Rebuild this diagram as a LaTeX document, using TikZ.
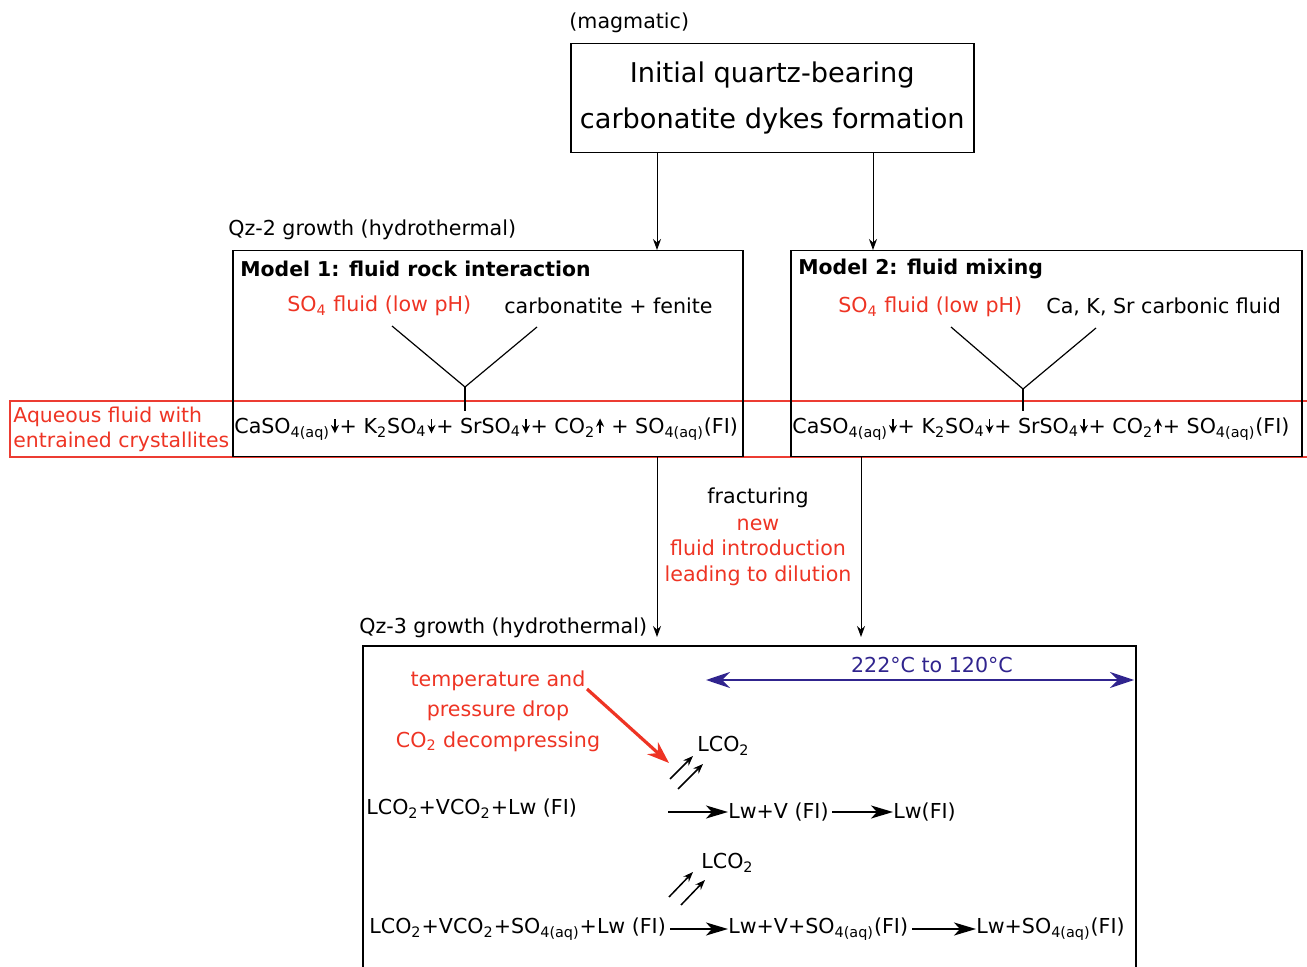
\documentclass[tikz,border=0pt]{standalone}
\usepackage{fontspec}
\setmainfont{DejaVu Sans}
\usepackage{xcolor}
\usetikzlibrary{arrows.meta,positioning}
\definecolor{RedText}{RGB}{238,52,36}
\definecolor{BandRed}{RGB}{236,60,50}
\definecolor{RangeBlue}{RGB}{48,36,142}
\newcommand{\dnar}{\hspace{0.4pt}\tikz[baseline=0pt]\draw[line width=0.8pt,-{Stealth[length=4.2pt,width=4pt]}] (0pt,7pt) -- (0pt,0pt);\hspace{0.4pt}}
\newcommand{\upar}{\hspace{0.4pt}\tikz[baseline=0pt]\draw[line width=0.8pt,-{Stealth[length=4.2pt,width=4pt]}] (0pt,0pt) -- (0pt,7.5pt);\hspace{0.4pt}}
\newcommand{\sulfeqa}{CaSO\textsubscript{4(aq)}\dnar+ K\textsubscript{2}SO\textsubscript{4}\dnar+ SrSO\textsubscript{4}\dnar+ CO\textsubscript{2}\upar\ + SO\textsubscript{4(aq)}(FI)}
\newcommand{\sulfeqb}{CaSO\textsubscript{4(aq)}\dnar+ K\textsubscript{2}SO\textsubscript{4}\dnar+ SrSO\textsubscript{4}\dnar+ CO\textsubscript{2}\upar+ SO\textsubscript{4(aq)}(FI)}
\tikzset{
  txt/.style={inner sep=0pt, font=\fontsize{10.3}{12.5}\selectfont},
  redtxt/.style={txt, text=RedText},
  frame/.style={draw, line width=0.75pt, inner sep=0pt},
  thinarr/.style={-{Stealth[length=5.5pt,width=4pt]}, line width=0.5pt},
  rxnarr/.style={-{Stealth[length=11pt,width=6.5pt,inset=3pt]}, line width=1pt},
  gasarr/.style={-{Stealth[length=5pt,width=3.8pt]}, line width=0.75pt},
}
\begin{document}
\begin{tikzpicture}[x=0.5pt,y=-0.5pt]
\useasboundingbox (0,0) rectangle (1307,967);
%
\node[txt, anchor=west] (magm) at (569,23) {(magmatic)};
\node[frame, minimum width=201.5pt, minimum height=54.5pt, anchor=north west, align=center,
  font=\fontsize{13.6}{23}\selectfont] (init) at (570,43) {Initial quartz-bearing\\carbonatite dykes formation};
%
\draw[line width=0.6pt, BandRed] (1307,401) -- (10,401) -- (10,457) -- (1307,457);
\node[redtxt, anchor=west, align=left, font=\fontsize{10.2}{12.5}\selectfont] (aq) at (13,429) {Aqueous fluid with\\entrained crystallites};
%
\node[txt, anchor=west] (qz2) at (228,230) {Qz-2 growth (hydrothermal)};
\node[frame, minimum width=255pt, minimum height=103pt, anchor=north west] (m1) at (232,250) {};
\node[frame, minimum width=255.5pt, minimum height=103pt, anchor=north west] (m2) at (790,250) {};
\node[txt, anchor=west, font=\fontsize{10.2}{12}\bfseries] (m1t) at (240,269) {Model 1: fluid rock interaction};
\node[txt, anchor=west, font=\fontsize{10.2}{12}\bfseries] (m2t) at (798,269) {Model 2: fluid mixing};
%
\node[redtxt, anchor=west] (m1so) at (287,306) {SO\textsubscript{4} fluid (low pH)};
\node[txt, anchor=west] (m1cf) at (504,306) {carbonatite + fenite};
\node[redtxt, anchor=west] (m2so) at (838,307) {SO\textsubscript{4} fluid (low pH)};
\node[txt, anchor=west] (m2cf) at (1046,307) {Ca, K, Sr carbonic fluid};
%
\node[txt, anchor=west] (m1eq) at (234,429) {\sulfeqa};
\node[txt, anchor=west] (m2eq) at (792,429) {\sulfeqb};
%
\coordinate (m1v) at (465,387);
\coordinate (m2v) at (1023,389);
\draw[line width=0.6pt] (392,326) -- (m1v) -- (537,327);
\draw[line width=0.6pt] (m1v) -- (465,411);
\draw[line width=0.6pt] (951,327) -- (m2v) -- (1096,328);
\draw[line width=0.6pt] (m2v) -- (1023,411);
%
\draw[thinarr] (init.south -| 657,0) -- (m1.north -| 657,0);
\draw[thinarr] (init.south -| 873,0) -- (m2.north -| 873,0);
%
\node[txt] (frac) at (758,498) {fracturing};
\node[redtxt, align=center, font=\fontsize{10.3}{12.8}\selectfont] (newf) at (758,552) {new\\fluid introduction\\leading to dilution};
%
\node[txt, anchor=west] (qz3) at (359,628) {Qz-3 growth (hydrothermal)};
\coordinate (q1) at (657,637);
\coordinate (q2) at (861,637);
\draw[thinarr] (m1.south -| q1) -- (q1);
\draw[thinarr] (m2.south -| q2) -- (q2);
%
\draw[line width=0.75pt] (363,970) -- (363,646) -- (1136,646) -- (1136,970);
%
\node[txt, text=RangeBlue] (range) at (932,665) {222°C to 120°C};
\coordinate (rl) at (706,680);
\coordinate (rr) at (1134,680);
\draw[RangeBlue, line width=0.9pt, {Stealth[length=12pt,width=8pt,inset=4pt]}-{Stealth[length=12pt,width=8pt,inset=4pt]}] (rl) -- (rr);
%
\node[redtxt, align=center, font=\fontsize{10.3}{15.2}\selectfont] (drop) at (498,711) {temperature and\\pressure drop\\CO\textsubscript{2} decompressing};
\coordinate (dropend) at (669,763);
\draw[RedText, line width=1.6pt, -{Stealth[length=11pt,width=8pt]}] (587,689) -- (dropend);
%
\node[txt, anchor=west] (g1) at (697,746) {LCO\textsubscript{2}};
\draw[gasarr] (670,779) -- (693,756);
\draw[gasarr] (678,789) -- (703,764);
%
\node[txt, anchor=west] (r1a) at (366,809) {LCO\textsubscript{2}+VCO\textsubscript{2}+Lw (FI)};
\coordinate (r1s) at (668,812);
\node[txt, anchor=west] (r1b) at (728,812) {Lw+V (FI)};
\node[txt, anchor=west] (r1c) at (893,812) {Lw(FI)};
\draw[rxnarr] (r1s) -- (r1b.west);
\draw[rxnarr] ([xshift=1.5pt]r1b.east) -- (r1c.west);
%
\node[txt, anchor=west] (g2) at (701,863) {LCO\textsubscript{2}};
\draw[gasarr] (669,897) -- (693,872);
\draw[gasarr] (681,905) -- (705,880);
%
\node[txt, anchor=west] (r2a) at (369,929) {LCO\textsubscript{2}+VCO\textsubscript{2}+SO\textsubscript{4(aq)}+Lw (FI)};
\node[txt, anchor=west] (r2b) at (728,929) {Lw+V+SO\textsubscript{4(aq)}(FI)};
\node[txt, anchor=west] (r2c) at (976,929) {Lw+SO\textsubscript{4(aq)}(FI)};
\draw[rxnarr] ([xshift=2pt]r2a.east) -- (r2b.west);
\draw[rxnarr] ([xshift=2pt]r2b.east) -- (r2c.west);
\end{tikzpicture}
\end{document}
